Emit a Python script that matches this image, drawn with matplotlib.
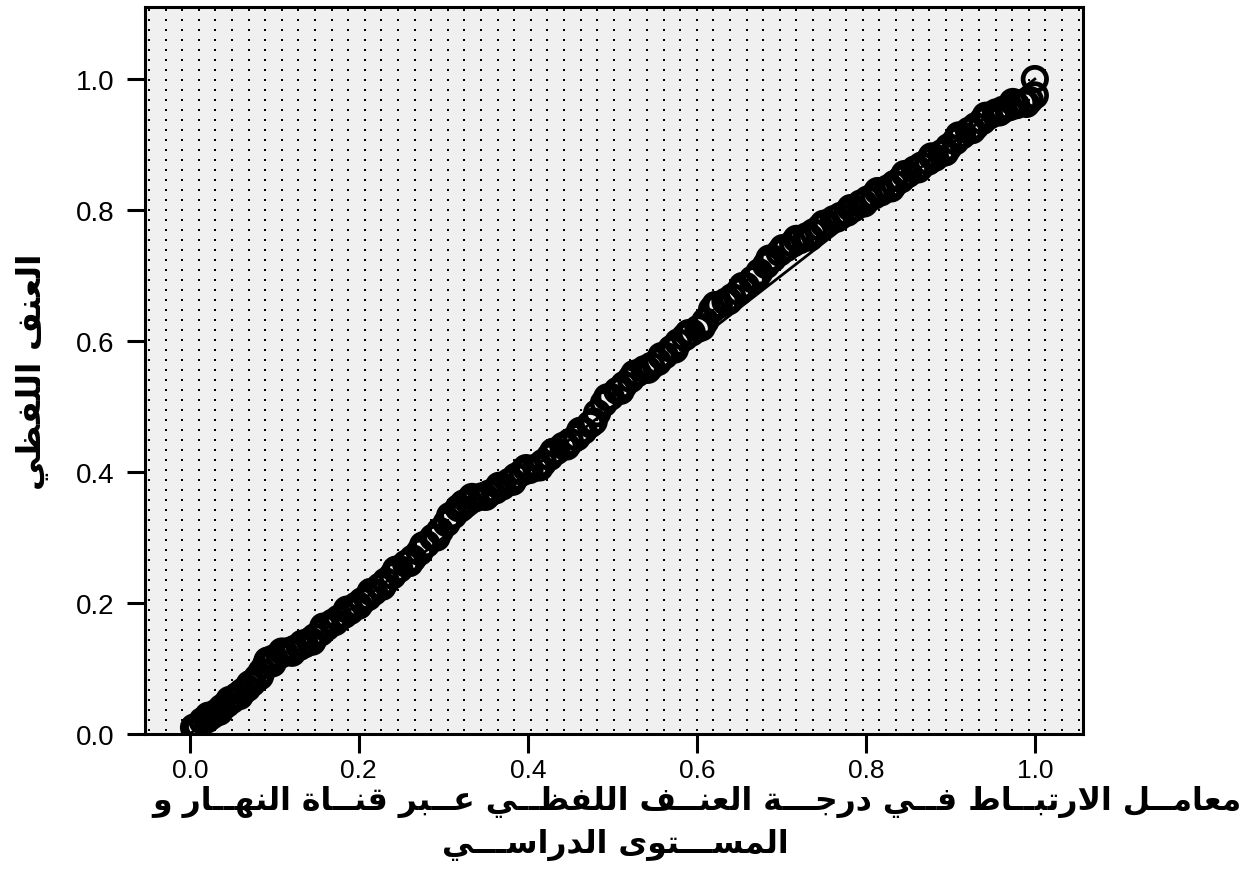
#!/usr/bin/env python3
# P-P plot with an SPSS style dotted background and Arabic axis titles
import numpy as np
import matplotlib
matplotlib.use('Agg')
import matplotlib.pyplot as plt

#==============================================================================
# data read off the chart (observed vs expected cumulative probability)
obs_prob = [0.005, 0.010, 0.015, 0.020, 0.026, 0.032, 0.038, 0.044, 0.050, 0.056,
            0.062, 0.068, 0.074, 0.080, 0.085, 0.090, 0.095, 0.100, 0.106, 0.112,
            0.118, 0.124, 0.130, 0.136, 0.142, 0.148, 0.155, 0.162, 0.169, 0.176,
            0.183, 0.190, 0.197, 0.204, 0.211, 0.218, 0.225, 0.232, 0.240, 0.248,
            0.256, 0.264, 0.272, 0.280, 0.288, 0.296, 0.304, 0.312, 0.318, 0.324,
            0.330, 0.338, 0.346, 0.354, 0.362, 0.370, 0.378, 0.386, 0.394, 0.402,
            0.410, 0.418, 0.426, 0.434, 0.442, 0.450, 0.458, 0.466, 0.474, 0.482,
            0.490, 0.498, 0.506, 0.514, 0.522, 0.530, 0.538, 0.546, 0.554, 0.562,
            0.570, 0.578, 0.586, 0.594, 0.602, 0.610, 0.618, 0.626, 0.634, 0.642,
            0.650, 0.658, 0.666, 0.674, 0.682, 0.690, 0.698, 0.706, 0.714, 0.722,
            0.730, 0.738, 0.746, 0.754, 0.762, 0.770, 0.778, 0.786, 0.794, 0.802,
            0.810, 0.818, 0.826, 0.834, 0.842, 0.850, 0.858, 0.866, 0.874, 0.882,
            0.890, 0.898, 0.906, 0.914, 0.922, 0.930, 0.938, 0.946, 0.954, 0.962,
            0.970, 0.978, 0.986, 0.994, 1.000, 1.000]
exp_prob = [0.010, 0.012, 0.020, 0.022, 0.028, 0.033, 0.040, 0.046, 0.052, 0.058,
            0.064, 0.070, 0.078, 0.086, 0.095, 0.105, 0.113, 0.116, 0.120, 0.124,
            0.127, 0.130, 0.133, 0.137, 0.142, 0.148, 0.155, 0.163, 0.170, 0.176,
            0.182, 0.188, 0.196, 0.203, 0.209, 0.217, 0.225, 0.233, 0.242, 0.252,
            0.260, 0.268, 0.278, 0.290, 0.300, 0.310, 0.322, 0.334, 0.345, 0.352,
            0.356, 0.360, 0.363, 0.367, 0.372, 0.378, 0.385, 0.393, 0.400, 0.403,
            0.407, 0.414, 0.423, 0.432, 0.440, 0.446, 0.453, 0.463, 0.473, 0.490,
            0.505, 0.515, 0.524, 0.533, 0.542, 0.551, 0.557, 0.562, 0.568, 0.578,
            0.588, 0.598, 0.606, 0.613, 0.619, 0.630, 0.648, 0.655, 0.660, 0.667,
            0.675, 0.684, 0.694, 0.705, 0.716, 0.726, 0.735, 0.742, 0.749, 0.754,
            0.760, 0.766, 0.773, 0.780, 0.786, 0.791, 0.796, 0.803, 0.810, 0.816,
            0.822, 0.827, 0.833, 0.840, 0.847, 0.855, 0.862, 0.868, 0.874, 0.880,
            0.887, 0.896, 0.905, 0.914, 0.921, 0.928, 0.936, 0.944, 0.949, 0.953,
            0.957, 0.960, 0.964, 0.968, 0.975, 1.000]

# further cases lying across the width of the band
obs_prob_b = [0.008, 0.022, 0.035, 0.047, 0.059, 0.071, 0.083, 0.092, 0.098, 0.109,
              0.121, 0.133, 0.145, 0.158, 0.172, 0.186, 0.200, 0.214, 0.228, 0.244,
              0.260, 0.276, 0.292, 0.308, 0.321, 0.334, 0.350, 0.366, 0.382, 0.398,
              0.414, 0.430, 0.446, 0.462, 0.478, 0.494, 0.510, 0.526, 0.542, 0.558,
              0.574, 0.590, 0.606, 0.622, 0.638, 0.654, 0.670, 0.686, 0.702, 0.718,
              0.734, 0.750, 0.766, 0.782, 0.798, 0.814, 0.830, 0.846, 0.862, 0.878,
              0.894, 0.910, 0.926, 0.942, 0.958, 0.974, 0.990]
exp_prob_b = [0.006, 0.028, 0.034, 0.052, 0.058, 0.076, 0.088, 0.112, 0.108, 0.126,
              0.124, 0.138, 0.141, 0.164, 0.171, 0.190, 0.196, 0.217, 0.225, 0.251,
              0.261, 0.288, 0.300, 0.333, 0.345, 0.362, 0.362, 0.379, 0.385, 0.406,
              0.407, 0.431, 0.439, 0.463, 0.477, 0.514, 0.524, 0.550, 0.556, 0.577,
              0.587, 0.612, 0.621, 0.655, 0.661, 0.684, 0.696, 0.726, 0.742, 0.756,
              0.758, 0.779, 0.787, 0.803, 0.810, 0.829, 0.833, 0.855, 0.862, 0.882,
              0.888, 0.914, 0.922, 0.944, 0.949, 0.965, 0.962]

ref_line = [0.0, 1.0]
ticks = [0.0, 0.2, 0.4, 0.6, 0.8, 1.0]
tick_labels = ['0.0', '0.2', '0.4', '0.6', '0.8', '1.0']

xlabel_1 = 'معامــل الارتبــاط فــي درجـــة العنــف اللفظــي عــبر قنــاة النهــار و'
xlabel_2 = 'المســـتوى الدراســـي'
ylabel = 'العنف اللفظي'


#==============================================================================
# tiny arabic shaper (matplotlib has no complex text layout)
# letter: (isolated, final, initial, medial); None = right-joining only
FORMS = {
    'ا': ('\uFE8D', '\uFE8E', None, None),
    'ب': ('\uFE8F', '\uFE90', '\uFE91', '\uFE92'),
    'ة': ('\uFE93', '\uFE94', None, None),
    'ت': ('\uFE95', '\uFE96', '\uFE97', '\uFE98'),
    'ج': ('\uFE9D', '\uFE9E', '\uFE9F', '\uFEA0'),
    'د': ('\uFEA9', '\uFEAA', None, None),
    'ر': ('\uFEAD', '\uFEAE', None, None),
    'س': ('\uFEB1', '\uFEB2', '\uFEB3', '\uFEB4'),
    'ط': ('\uFEC1', '\uFEC2', '\uFEC3', '\uFEC4'),
    'ظ': ('\uFEC5', '\uFEC6', '\uFEC7', '\uFEC8'),
    'ع': ('\uFEC9', '\uFECA', '\uFECB', '\uFECC'),
    'ف': ('\uFED1', '\uFED2', '\uFED3', '\uFED4'),
    'ق': ('\uFED5', '\uFED6', '\uFED7', '\uFED8'),
    'ل': ('\uFEDD', '\uFEDE', '\uFEDF', '\uFEE0'),
    'م': ('\uFEE1', '\uFEE2', '\uFEE3', '\uFEE4'),
    'ن': ('\uFEE5', '\uFEE6', '\uFEE7', '\uFEE8'),
    'ه': ('\uFEE9', '\uFEEA', '\uFEEB', '\uFEEC'),
    'و': ('\uFEED', '\uFEEE', None, None),
    'ى': ('\uFEEF', '\uFEF0', None, None),
    'ي': ('\uFEF1', '\uFEF2', '\uFEF3', '\uFEF4'),
    'LA': ('\uFEFB', '\uFEFC', None, None),
}
TATWEEL = 'ـ'


def joins_next(t):
    return t == TATWEEL or (t in FORMS and FORMS[t][2] is not None)


def is_joining(t):
    return t == TATWEEL or t in FORMS


def shape(text):
    toks = []
    i = 0
    while i < len(text):
        if text[i] == 'ل' and i + 1 < len(text) and text[i + 1] == 'ا':
            toks.append('LA')
            i += 2
        else:
            toks.append(text[i])
            i += 1
    out = []
    for k, t in enumerate(toks):
        if t not in FORMS:
            out.append(t)
            continue
        prev = k > 0 and joins_next(toks[k - 1])
        nxt = k < len(toks) - 1 and joins_next(t) and is_joining(toks[k + 1])
        iso, fin, ini, med = FORMS[t]
        if prev and nxt:
            out.append(med)
        elif prev:
            out.append(fin)
        elif nxt:
            out.append(ini)
        else:
            out.append(iso)
    return ''.join(reversed(out))


#==============================================================================
fig = plt.figure(figsize=(12.51, 8.79), dpi=100)
ax = fig.add_axes([0.1159, 0.1638, 0.7498, 0.8271])
ax.set_facecolor('#f0f0f0')

# dotted backdrop pattern
cols = np.arange(4.0, 936.0, 16.6) / 938.0
rows = np.arange(4.0, 725.0, 10.0) / 727.0
gx, gy = np.meshgrid(cols, rows)
ax.scatter(gx.ravel(), gy.ravel(), s=3.6, marker='s', color='black',
           linewidths=0, transform=ax.transAxes, zorder=1, antialiased=False)

# reference line and points
ax.plot(ref_line, ref_line, color='black', linewidth=2.0, zorder=2)
ax.scatter(obs_prob + obs_prob_b, exp_prob + exp_prob_b, s=285,
           facecolors='none', edgecolors='black', linewidths=3.4, zorder=3)

ax.set_xlim(-0.053, 1.057)
ax.set_ylim(0.0, 1.11)
ax.set_xticks(ticks)
ax.set_yticks(ticks)
ax.set_xticklabels(tick_labels, family='Liberation Sans', fontsize=19)
ax.set_yticklabels(tick_labels, family='Liberation Sans', fontsize=20)
ax.tick_params(axis='x', direction='out', length=14, width=2.2, pad=3)
ax.tick_params(axis='y', direction='out', length=13, width=2.2, pad=9)
for sp in ax.spines.values():
    sp.set_linewidth(2.2)

# axis titles
fig.text(33 / 1251, 1 - 372 / 879, shape(ylabel), rotation=90, ha='center',
         va='center', fontsize=24, fontweight='bold', family='DejaVu Sans')
fig.text(697 / 1251, 1 - 802 / 879, shape(xlabel_1), ha='center', va='center',
         fontsize=22.7, fontweight='bold', family='DejaVu Sans')
fig.text(615 / 1251, 1 - 845 / 879, shape(xlabel_2), ha='center', va='center',
         fontsize=22.7, fontweight='bold', family='DejaVu Sans')

fig.savefig('out.png', dpi=100)
